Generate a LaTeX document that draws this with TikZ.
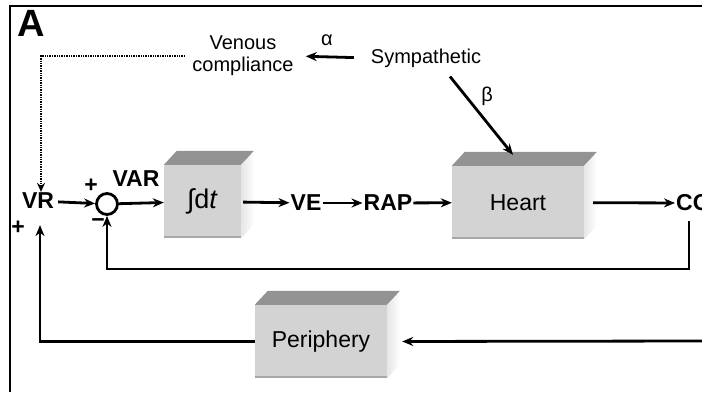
\documentclass[tikz,border=0pt]{standalone}
\usepackage{fontspec}
\setmainfont{Liberation Sans}
\usetikzlibrary{arrows.meta,positioning}
\definecolor{boxfront}{HTML}{D3D3D3}
\definecolor{boxtop}{HTML}{939393}
\definecolor{boxside}{HTML}{E6E6E6}
\definecolor{boxedge}{HTML}{A8A8A8}
\tikzset{
  sig/.style={line width=2.8pt,-{Stealth[length=11pt,width=9pt]}},
  sigdot/.style={line width=2.8pt,dash pattern=on 1.4pt off 1pt,-{Stealth[length=9pt,width=8pt]}},
  lbl/.style={font=\fontsize{23}{25}\selectfont\bfseries,inner sep=1pt},
  txt/.style={font=\fontsize{20}{22}\selectfont,inner sep=1pt,align=center},
  blk/.style={fill=boxfront,inner sep=0pt,minimum height=73pt,font=\fontsize{23}{25}\selectfont},
}
\newcommand{\boxfaces}[1]{%
  \fill[boxtop] (#1.north west) -- ++(13,-14) -- ([shift={(13,-14)}]#1.north east) -- (#1.north east) -- cycle;
  \shade[left color=boxside,right color=white] (#1.north east) -- ([shift={(13,-14)}]#1.north east) -- ([shift={(13,-14)}]#1.south east) -- (#1.south east) -- cycle;
  \draw[boxedge,line width=2pt] ([yshift=1pt]#1.south west) -- ([yshift=1pt]#1.south east);
}
\begin{document}
\begin{tikzpicture}[x=1pt,y=-1pt]
\useasboundingbox (0,0) rectangle (702,392);
\draw[line width=2.8pt] (10,392) -- (10,6) -- (702,6);
\node[font=\fontsize{38}{38}\selectfont\bfseries,inner sep=0pt] (lettera) at (31,23) {A};

\node[blk,minimum width=77pt] (integ) at (202.5,201.5) {\fontsize{27}{27}\selectfont ∫d\textit{t}};
\node[blk,minimum width=132pt] (heart) at (518,202.5) {Heart};
\node[blk,minimum width=132pt] (peri) at (321,341.5) {Periphery};
\boxfaces{integ}
\boxfaces{heart}
\boxfaces{peri}

\node[lbl] (VR) at (38,201) {VR};
\node[circle,draw,line width=2.8pt,minimum size=21pt,inner sep=0pt] (sum) at (107,204) {};
\node[lbl] (VAR) at (136,179) {VAR};
\node[lbl] (VE) at (306,203) {VE};
\node[lbl] (RAP) at (388,203) {RAP};
\node[lbl,anchor=west] (CO) at (675,203) {CO};
\node[lbl] (plusa) at (91,186) {+};
\node[lbl] (minus) at (98,223) {−};
\node[lbl] (plusb) at (18,228) {+};

\node[txt] (symp) at (426,58) {Sympathetic};
\node[txt] (vc) at (243,56) {Venous\\compliance};
\node[txt] (alpha) at (327,40) {α};
\node[txt] (beta) at (487,96) {β};

\coordinate (fbk) at (689,269);
\coordinate (pin) at (702,341);

\draw[sig,shorten <=3pt] (VR) -- (sum);
\draw[sig] (sum) -- (integ);
\draw[sig,shorten <=2pt] (integ) -- (VE);
\draw[sig] (VE) -- (RAP);
\draw[sig] (RAP) -- (heart);
\draw[sig,shorten <=9pt] (heart) -- (CO);
\draw[sig,shorten <=9pt] (CO.south -| fbk) -- (fbk) -| (sum.south);
\draw[sig,shorten >=15pt] (pin) -- (peri.east);
\draw[sig,shorten >=15pt] (peri.west) -| ([xshift=2pt]VR.south);
\draw[sigdot,shorten <=6pt] (vc.west) -| ([xshift=3pt]VR.north);
\draw[sig,shorten <=16pt,shorten >=11pt] (symp.west) -- (vc.east);
\draw[sig] ([xshift=24pt,yshift=-8pt]symp.south) -- ([shift={(-5,-11)}]heart.north);
\end{tikzpicture}
\end{document}
